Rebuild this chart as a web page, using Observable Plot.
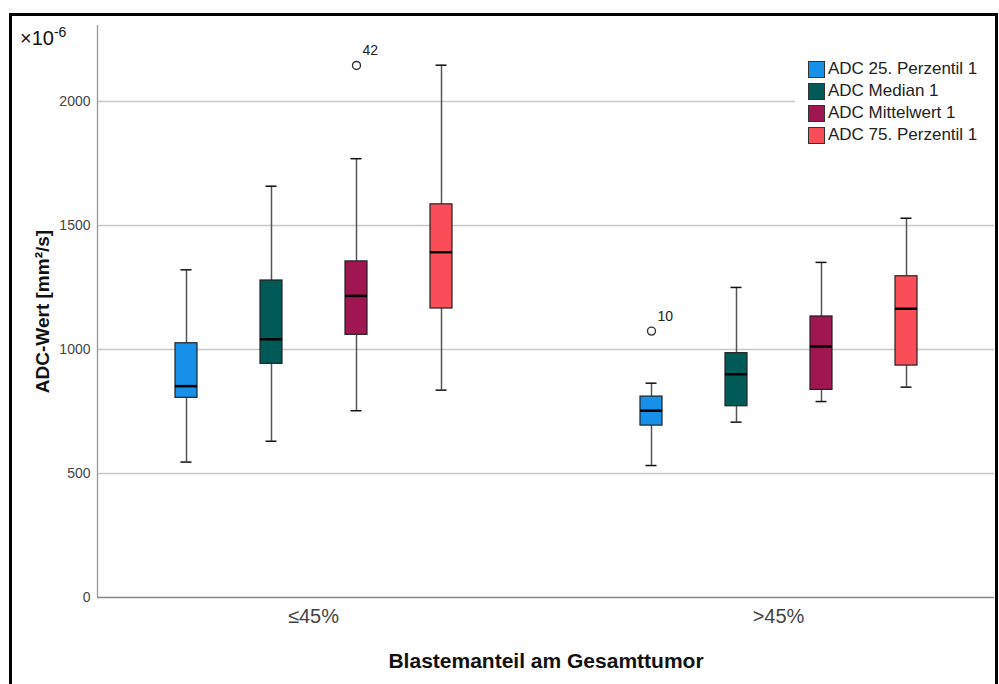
<!DOCTYPE html>
<html>
<head>
<meta charset="utf-8">
<script src="https://cdn.jsdelivr.net/npm/d3@7"></script>
<script src="https://cdn.jsdelivr.net/npm/@observablehq/plot@0.6"></script>
<style>
  body { margin: 0; background: #fff; font-family: "Liberation Sans", Arial, sans-serif; }
  #wrap { position: relative; width: 999px; height: 684px; overflow: hidden; background: #fff; }
  #frame { position: absolute; left: 9px; top: 13px; width: 989px; height: 720px; border: 3px solid #000; box-sizing: border-box; }
  .layer { position: absolute; left: 0; top: 0; }
  #exp { position: absolute; left: 20px; top: 20px; font-size: 20px; color: #111; line-height: 24px; }
  #exp sup { font-size: 14px; vertical-align: 8px; }
  #legend { position: absolute; left: 795px; top: 58px; width: 199px; box-sizing: border-box; background: #fff; padding-left: 13px; }
  .row { display: flex; align-items: center; height: 22px; font-size: 17px; color: #222; white-space: nowrap; }
  .sw { width: 17px; height: 17px; border: 1px solid #333; box-sizing: border-box; margin-right: 3px; flex: none; }
  [aria-label="y-axis label"] text { font-weight: bold; font-size: 19px; fill: #111; }
  [aria-label="fx-axis label"] text { font-weight: bold; font-size: 21px; fill: #111; }
  [aria-label="fx-axis tick label"], [aria-label="fx-axis tick label"] text { font-size: 20px; fill: #444; }
</style>
</head>
<body>
<div id="wrap">
  <div id="frame"></div>
  <div id="bg" class="layer"></div>
  <div id="fg" class="layer"></div>
  <div id="exp">×10<sup>-6</sup></div>
  <div id="legend"></div>
</div>
<script>
const groups = ["≤45%", ">45%"];
const series = ["ADC 25. Perzentil 1", "ADC Median 1", "ADC Mittelwert 1", "ADC 75. Perzentil 1"];
const colors = ["#1690e8", "#005b58", "#9f1650", "#f94e57"];

// order: group ≤45% (4 series), then group >45% (4 series)
const whiskerLow  = [546, 630, 753, 836, 532, 707, 790, 848];
const q1          = [805, 942, 1059, 1165, 693, 771, 837, 935];
const median      = [852, 1041, 1216, 1392, 753, 900, 1012, 1164];
const q3          = [1025, 1278, 1355, 1585, 810, 985, 1133, 1295];
const whiskerHigh = [1321, 1658, 1769, 2146, 864, 1250, 1351, 1529];

const outlierGroup  = ["≤45%", ">45%"];
const outlierSeries = ["ADC Mittelwert 1", "ADC 25. Perzentil 1"];
const outlierValue  = [2145, 1074];
const outlierLabel  = ["42", "10"];

const yTicks = [0, 500, 1000, 1500, 2000];
const gridTicks = [500, 1000, 1500, 2000];
const yDomain = [0, 2306];

const rows = [];
groups.forEach((g, gi) => series.forEach((s, si) => {
  const i = gi * series.length + si;
  rows.push({group: g, series: s, lo: whiskerLow[i], q1: q1[i], med: median[i], q3: q3[i], hi: whiskerHigh[i]});
}));
const outliers = outlierValue.map((v, i) => ({group: outlierGroup[i], series: outlierSeries[i], value: v, label: outlierLabel[i]}));

const common = {
  width: 999,
  height: 684,
  marginLeft: 97,
  marginRight: 5,
  marginTop: 25,
  marginBottom: 87,
  style: {fontFamily: "Liberation Sans, Arial, sans-serif", background: "transparent", color: "#444"}
};

// background layer: grid, axis lines, y ticks
const bg = Plot.plot({
  ...common,
  x: {domain: [0, 1], axis: null},
  y: {domain: yDomain},
  marks: [
    Plot.ruleY(gridTicks, {stroke: "#c8c8c8", strokeWidth: 1.5}),
    Plot.ruleY([0], {stroke: "#888", strokeWidth: 1.3}),
    Plot.ruleX([0], {stroke: "#999", strokeWidth: 1.3}),
    Plot.axisY({ticks: yTicks, tickFormat: d => String(d), tickSize: 0, tickPadding: 7, fontSize: 14, label: "ADC-Wert [mm²/s]", labelAnchor: "center", labelArrow: "none", labelOffset: 62})
  ]
});
document.getElementById("bg").appendChild(bg);

// foreground layer: faceted boxes
const fg = Plot.plot({
  ...common,
  fx: {domain: groups, paddingInner: 0.071, paddingOuter: 0, axis: "bottom", tickSize: 0, tickPadding: 11,
       label: "Blastemanteil am Gesamttumor", labelAnchor: "center", labelArrow: "none", labelOffset: 70},
  x: {domain: series, paddingInner: 0.744, paddingOuter: 0.884, axis: null},
  y: {domain: yDomain, axis: null},
  color: {domain: series, range: colors},
  marks: [
    Plot.ruleX(rows, {fx: "group", x: "series", y1: "lo", y2: "q1", stroke: "#555", strokeWidth: 1.5}),
    Plot.ruleX(rows, {fx: "group", x: "series", y1: "q3", y2: "hi", stroke: "#555", strokeWidth: 1.5}),
    Plot.tickY(rows, {fx: "group", x: "series", y: "lo", inset: 5.5, stroke: "#111", strokeWidth: 1.5}),
    Plot.tickY(rows, {fx: "group", x: "series", y: "hi", inset: 5.5, stroke: "#111", strokeWidth: 1.5}),
    Plot.barY(rows, {fx: "group", x: "series", y1: "q1", y2: "q3", fill: "series", stroke: "#222", strokeWidth: 1.2}),
    Plot.tickY(rows, {fx: "group", x: "series", y: "med", stroke: "#000", strokeWidth: 2.5}),
    Plot.dot(outliers, {fx: "group", x: "series", y: "value", r: 4, stroke: "#333", strokeWidth: 1.4, fill: "#fff"}),
    Plot.text(outliers, {fx: "group", x: "series", y: "value", text: "label", dx: 6, dy: -15, textAnchor: "start", fontSize: 14, fill: "#222"})
  ]
});
document.getElementById("fg").appendChild(fg);

const legend = document.getElementById("legend");
series.forEach((s, i) => {
  const r = document.createElement("div");
  r.className = "row";
  r.innerHTML = `<div class="sw" style="background:${colors[i]}"></div><span>${s}</span>`;
  legend.appendChild(r);
});
</script>
</body>
</html>
